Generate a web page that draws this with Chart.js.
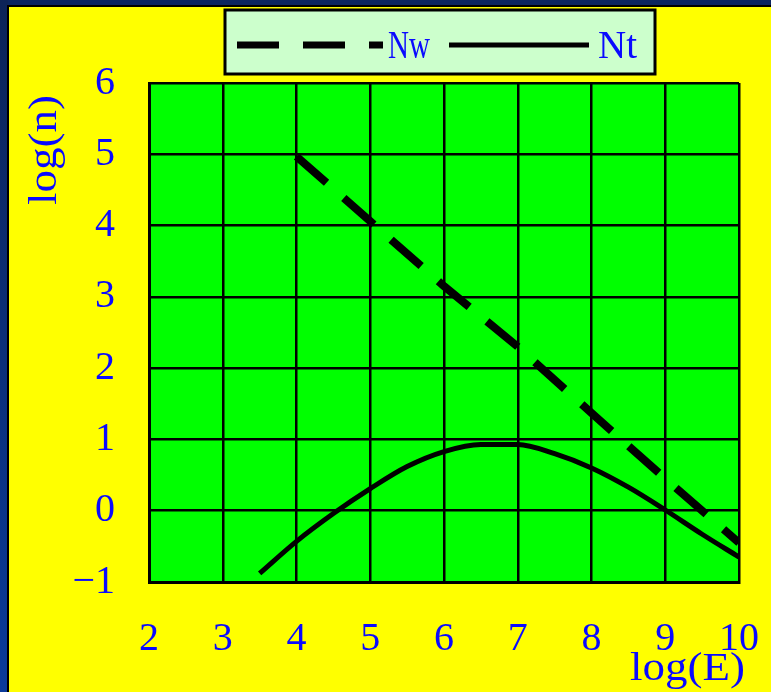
<!DOCTYPE html>
<html>
<head>
<meta charset="utf-8">
<script src="https://cdn.jsdelivr.net/npm/chart.js@4/dist/chart.umd.min.js"></script>
<style>
    html, body { margin: 0; padding: 0; background: #0b2560; }
    #wrap { position: absolute; left: 0; top: 0; width: 771px; height: 692px; }
</style>
</head>
<body>
<div id="wrap"><canvas id="chart" width="771" height="692"></canvas></div>
<script>
// -------- DATA ---------------
const xTicks = [2, 3, 4, 5, 6, 7, 8, 9, 10];
const yTicks = [-1, 0, 1, 2, 3, 4, 5, 6];

const nwE = [4, 5, 6, 7, 8, 9, 10];
const nwN = [4.97, 4.06, 3.15, 2.3, 1.37, 0.45, -0.45];

const ntE = [3.5, 4, 4.5, 5, 5.5, 6, 6.5, 7, 7.5, 8, 8.5, 9, 9.5, 10];
const ntN = [-0.88, -0.43, -0.04, 0.31, 0.62, 0.83, 0.93, 0.93, 0.8, 0.6, 0.33, 0.01, -0.33, -0.65];

const seriesNames = ["Nw", "Nt"];
const xTitle = "log(E)";
const yTitle = "log(n)";

const blue = "#0a0aff";
const serif = "'Liberation Serif', 'DejaVu Serif', serif";

// draw text squeezed to a given width
function fitText(ctx, text, x, y, width) {
    let w = ctx.measureText(text).width;
    ctx.save();
    ctx.translate(x, y);
    ctx.scale(width / w, 1);
    ctx.fillText(text, 0, 0);
    ctx.restore();
}

// ------------ BACKGROUND, PLOT AREA, LEGEND, TITLES -----------------
const decor = {
    id: "decor",
    beforeDraw(chart) {
        const ctx = chart.ctx;
        const a = chart.chartArea;
        ctx.save();
        ctx.fillStyle = "#0b2560";
        ctx.fillRect(0, 0, chart.width, chart.height);
        let g = ctx.createLinearGradient(0, 0, 0, chart.height);
        g.addColorStop(0, "#0c2358");
        g.addColorStop(1, "#0a3a9a");
        ctx.fillStyle = g;
        ctx.fillRect(0, 0, 8, chart.height);
        ctx.fillStyle = "#000";
        ctx.fillRect(7, 5, chart.width, chart.height);
        ctx.fillStyle = "#ffff00";
        ctx.fillRect(9, 7, chart.width, chart.height);
        ctx.fillStyle = "#00ff00";
        ctx.fillRect(a.left, a.top, a.right - a.left, a.bottom - a.top);
        ctx.restore();
    },
    afterDraw(chart) {
        const ctx = chart.ctx;
        ctx.save();
        // legend box
        ctx.fillStyle = "#ccffcc";
        ctx.fillRect(225, 10, 430, 64);
        ctx.strokeStyle = "#000";
        ctx.lineWidth = 3;
        ctx.strokeRect(225, 10, 430, 64);

        ctx.lineCap = "butt";
        ctx.beginPath();
        ctx.setLineDash([42, 24]);
        ctx.lineWidth = 7;
        ctx.moveTo(237, 45);
        ctx.lineTo(383, 45);
        ctx.stroke();
        ctx.setLineDash([]);
        ctx.beginPath();
        ctx.lineWidth = 5;
        ctx.moveTo(449, 45);
        ctx.lineTo(589, 45);
        ctx.stroke();

        ctx.fillStyle = blue;
        ctx.font = "40px " + serif;
        ctx.textBaseline = "alphabetic";
        ctx.textAlign = "left";
        fitText(ctx, seriesNames[0], 388, 58, 42);
        fitText(ctx, seriesNames[1], 598, 58, 39);

        // axis titles
        fitText(ctx, xTitle, 630, 680, 115);
        ctx.save();
        ctx.translate(56, 205);
        ctx.rotate(-Math.PI / 2);
        fitText(ctx, yTitle, 0, 0, 110);
        ctx.restore();
        ctx.restore();
    }
};

const tickFont = { size: 40, family: serif };

new Chart(document.getElementById("chart"), {
    type: "line",
    data: {
        datasets: [{
            label: seriesNames[0],
            data: nwE.map((e, i) => ({ x: e, y: nwN[i] })),
            borderColor: "#000",
            borderWidth: 8,
            borderDash: [40, 23],
            borderCapStyle: "butt",
            pointRadius: 0,
            tension: 0
        }, {
            label: seriesNames[1],
            data: ntE.map((e, i) => ({ x: e, y: ntN[i] })),
            borderColor: "#000",
            borderWidth: 5,
            pointRadius: 0,
            cubicInterpolationMode: "monotone"
        }]
    },
    options: {
        responsive: false,
        animation: false,
        layout: { padding: { top: 83, right: 32, left: 0, bottom: 0 } },
        plugins: {
            legend: { display: false },
            tooltip: { enabled: false }
        },
        scales: {
            x: {
                type: "linear",
                min: xTicks[0],
                max: xTicks[xTicks.length - 1],
                afterBuildTicks: s => { s.ticks = xTicks.map(v => ({ value: v })); },
                afterFit: s => { s.height = 110; s.paddingLeft = 0; s.paddingRight = 0; },
                ticks: { color: blue, font: tickFont, padding: 33, maxRotation: 0, autoSkip: false },
                grid: { color: "#000", lineWidth: 2.5, drawTicks: false },
                border: { display: true, color: "#000", width: 3 }
            },
            y: {
                type: "linear",
                min: yTicks[0],
                max: yTicks[yTicks.length - 1],
                afterBuildTicks: s => { s.ticks = yTicks.map(v => ({ value: v })); },
                afterFit: s => { s.width = 149; s.paddingTop = 0; s.paddingBottom = 0; },
                ticks: {
                    color: blue, font: tickFont, padding: 34, autoSkip: false,
                    callback: v => v < 0 ? "\u2212" + Math.abs(v) : String(v)
                },
                grid: { color: "#000", lineWidth: 2.5, drawTicks: false },
                border: { display: true, color: "#000", width: 3 }
            }
        }
    },
    plugins: [decor]
});
</script>
</body>
</html>
